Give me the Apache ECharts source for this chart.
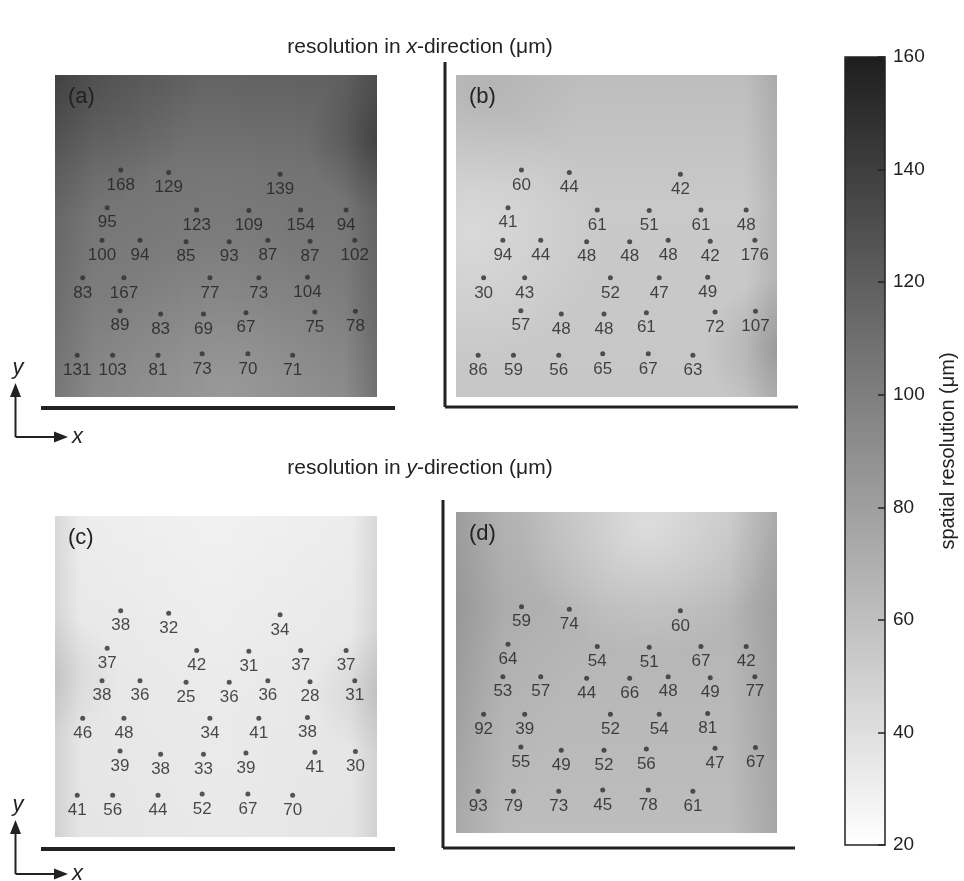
<!DOCTYPE html>
<html><head><meta charset="utf-8">
<script src="https://cdn.jsdelivr.net/npm/echarts@6.0.0/dist/echarts.min.js"></script>
<style>html,body{margin:0;padding:0;background:#fff}#c{width:964px;height:881px}</style>
</head><body><div id="c"></div>
<script>
// phantom point positions (percent of panel width / height, measured from top-left)
const pointX = [20.4, 35.3, 69.9,
  16.2, 44.0, 60.2, 76.3, 90.4,
  14.6, 26.4, 40.7, 54.1, 66.1, 79.2, 93.1,
  8.6, 21.4, 48.1, 63.3, 78.4,
  20.2, 32.8, 46.1, 59.3, 80.7, 93.3,
  6.9, 17.9, 32.0, 45.7, 59.9, 73.8];
const pointY = [29.5, 30.3, 30.8,
  41.2, 41.9, 42.1, 41.9, 41.9,
  51.3, 51.3, 51.8, 51.8, 51.3, 51.6, 51.3,
  63.0, 63.0, 63.0, 63.0, 62.8,
  73.2, 74.2, 74.2, 73.8, 73.6, 73.4,
  87.0, 87.0, 87.0, 86.6, 86.6, 87.0];
// spatial resolution values (µm)
const resXa = [168, 129, 139, 95, 123, 109, 154, 94, 100, 94, 85, 93, 87, 87, 102, 83, 167, 77, 73, 104, 89, 83, 69, 67, 75, 78, 131, 103, 81, 73, 70, 71];
const resXb = [60, 44, 42, 41, 61, 51, 61, 48, 94, 44, 48, 48, 48, 42, 176, 30, 43, 52, 47, 49, 57, 48, 48, 61, 72, 107, 86, 59, 56, 65, 67, 63];
const resYc = [38, 32, 34, 37, 42, 31, 37, 37, 38, 36, 25, 36, 36, 28, 31, 46, 48, 34, 41, 38, 39, 38, 33, 39, 41, 30, 41, 56, 44, 52, 67, 70];
const resYd = [59, 74, 60, 64, 54, 51, 67, 42, 53, 57, 44, 66, 48, 49, 77, 92, 39, 52, 54, 81, 55, 49, 52, 56, 47, 67, 93, 79, 73, 45, 78, 61];
const panelNames = ['(a)', '(b)', '(c)', '(d)'];
const colorbarMin = 20, colorbarMax = 160, colorbarStep = 20;
const colorbarTitle = 'spatial resolution (μm)';
const titleX = 'resolution in {i|x}-direction (μm)';
const titleY = 'resolution in {i|y}-direction (μm)';

const panels = [
  {left: 55, top: 75, w: 322, h: 322, data: resXa},
  {left: 456, top: 75, w: 321, h: 322, data: resXb},
  {left: 55, top: 516, w: 322, h: 321, data: resYc},
  {left: 456, top: 512, w: 321, h: 321, data: resYd}
];
const CB = {left: 845, top: 57, w: 40, h: 788};

const FONT = '"Liberation Sans", Arial, Helvetica, sans-serif';
const chart = echarts.init(document.getElementById('c'));

const lin = (x, y, x2, y2, stops) => ({type: 'linear', x, y, x2, y2, colorStops: stops.map(s => ({offset: s[0], color: s[1]}))});
const rad = (x, y, r, c) => ({type: 'radial', x, y, r, colorStops: [{offset: 0, color: c}, {offset: 1, color: c.replace(/[\d.]+\)$/, '0)')}]});

const bgLayers = [
  [lin(0,0,0,1,[[0,'#636363'],[0.3,'#767676'],[0.7,'#828282'],[1,'#8e8e8e']]),
   lin(0,0,1,0,[[0,'rgba(0,0,0,0.16)'],[0.12,'rgba(0,0,0,0.04)'],[0.5,'rgba(0,0,0,0)'],[0.9,'rgba(0,0,0,0.04)'],[1,'rgba(0,0,0,0.2)']]),
   rad(0,0,0.45,'rgba(0,0,0,0.22)'),
   rad(1,0.2,0.22,'rgba(0,0,0,0.25)'),
   rad(0.55,0.95,0.45,'rgba(255,255,255,0.10)')],
  [lin(0,0,0,1,[[0,'#bdbdbd'],[0.4,'#c9c9c9'],[1,'#c7c7c7']]),
   rad(0.05,0.5,0.4,'rgba(255,255,255,0.3)'),
   lin(0,0,1,0,[[0,'rgba(0,0,0,0)'],[0.9,'rgba(0,0,0,0)'],[1,'rgba(0,0,0,0.1)']]),
   rad(1,0.85,0.22,'rgba(0,0,0,0.14)'),
   rad(0.1,0.05,0.3,'rgba(0,0,0,0.05)')],
  [lin(0,0,0,1,[[0,'#f1f1f1'],[0.5,'#ebebeb'],[1,'#e9e9e9']]),
   lin(0,0,1,0,[[0,'rgba(0,0,0,0.1)'],[0.08,'rgba(0,0,0,0.02)'],[0.5,'rgba(0,0,0,0)'],[0.92,'rgba(0,0,0,0.02)'],[1,'rgba(0,0,0,0.1)']]),
   rad(0,0.5,0.2,'rgba(0,0,0,0.08)'),
   rad(1,0.55,0.2,'rgba(0,0,0,0.09)')],
  [lin(0,0,0,1,[[0,'#c2c2c2'],[0.3,'#b5b5b5'],[1,'#bdbdbd']]),
   rad(0.6,0.05,0.4,'rgba(255,255,255,0.45)'),
   lin(0,0,1,0.35,[[0,'rgba(0,0,0,0.12)'],[0.3,'rgba(0,0,0,0.03)'],[0.5,'rgba(0,0,0,0)']]),
   lin(0,0,1,0,[[0,'rgba(0,0,0,0.08)'],[0.15,'rgba(0,0,0,0)'],[0.85,'rgba(0,0,0,0)'],[1,'rgba(0,0,0,0.12)']])]
];

const graphics = [];
panels.forEach((p, i) => {
  bgLayers[i].forEach(fill => graphics.push({type: 'rect', z: -10, shape: {x: p.left, y: p.top, width: p.w, height: p.h}, style: {fill}}));
  graphics.push({type: 'text', z: 5, x: p.left + 13, y: p.top + 22, style: {text: panelNames[i], font: '22px ' + FONT, fill: '#222', textVerticalAlign: 'middle'}});
});
const LC = '#222';
const line = (x1, y1, x2, y2, w) => ({type: 'line', shape: {x1, y1, x2, y2}, style: {stroke: LC, lineWidth: w}});
// frame lines
graphics.push(line(41, 408, 395, 408, 4));
graphics.push(line(445, 62, 445, 407, 3), line(445, 407, 798, 407, 3));
graphics.push(line(41, 849, 395, 849, 4));
graphics.push(line(443, 500, 443, 848, 3), line(443, 848, 795, 848, 3));
// colorbar frame
graphics.push({type: 'rect', z: 100, shape: {x: CB.left, y: CB.top, width: CB.w, height: CB.h}, style: {fill: 'none', stroke: LC, lineWidth: 1.5}});
// axis direction indicators
function indicator(by) {
  graphics.push(line(15.5, by, 15.5, by - 46, 2), line(15.5, by, 58, by, 2));
  graphics.push({type: 'polygon', shape: {points: [[15.5, by - 54], [10, by - 40], [21, by - 40]]}, style: {fill: LC}});
  graphics.push({type: 'polygon', shape: {points: [[68, by], [54, by - 5.5], [54, by + 5.5]]}, style: {fill: LC}});
  graphics.push({type: 'text', x: 18, y: by - 69, style: {text: 'y', font: 'italic 22px ' + FONT, fill: LC, textAlign: 'center', textVerticalAlign: 'middle'}});
  graphics.push({type: 'text', x: 72, y: by, style: {text: 'x', font: 'italic 22px ' + FONT, fill: LC, textAlign: 'left', textVerticalAlign: 'middle'}});
}
indicator(437);
indicator(874);
// section titles
[[titleX, 47], [titleY, 468]].forEach(t => graphics.push({type: 'text', x: 420, y: t[1], style: {text: t[0], font: '21px ' + FONT, fill: LC, textAlign: 'center', textVerticalAlign: 'middle', rich: {i: {fontStyle: 'italic', fontSize: 21, fontFamily: FONT, fill: LC}}}}));

const grids = panels.map(p => ({left: p.left, top: p.top, width: p.w, height: p.h, outerBoundsMode: 'none', containLabel: false}));
grids.push({left: CB.left, top: CB.top, width: CB.w, height: CB.h, outerBoundsMode: 'none', containLabel: false});

const xAxes = panels.map((p, i) => ({type: 'value', gridIndex: i, min: 0, max: 100, show: false}));
const yAxes = panels.map((p, i) => ({type: 'value', gridIndex: i, min: 0, max: 100, inverse: true, show: false}));
xAxes.push({type: 'value', gridIndex: 4, min: 0, max: 1, show: false});
// colorbar: labels + name on the right
yAxes.push({type: 'value', gridIndex: 4, position: 'right', min: colorbarMin, max: colorbarMax, interval: colorbarStep, z: 50,
  axisLine: {show: false},
  axisTick: {show: false},
  axisLabel: {show: true, color: LC, fontSize: 19, fontFamily: FONT, margin: 8},
  splitLine: {show: false},
  name: colorbarTitle, nameLocation: 'middle', nameGap: 53, nameRotate: 90,
  nameTextStyle: {color: LC, fontSize: 20, fontFamily: FONT}});
// colorbar: inward ticks on the right edge
yAxes.push({type: 'value', gridIndex: 4, position: 'left', offset: -CB.w, min: colorbarMin, max: colorbarMax, interval: colorbarStep, z: 50,
  axisLine: {show: false},
  axisTick: {show: true, inside: false, length: 7, lineStyle: {color: LC, width: 1.5}},
  axisLabel: {show: false},
  splitLine: {show: false}});

const series = panels.map((p, i) => ({
  type: 'scatter', xAxisIndex: i, yAxisIndex: i, z: 5,
  symbol: 'circle', symbolSize: 5,
  itemStyle: {color: '#2e2e2e'},
  data: pointX.map((x, k) => [x, pointY[k], p.data[k]]),
  label: {show: true, position: 'bottom', distance: 4, formatter: q => String(q.value[2]),
    color: '#1e1e1e', fontSize: 17, fontFamily: FONT},
  emphasis: {disabled: true}
}));

chart.setOption({
  animation: false,
  backgroundColor: '#fff',
  grid: grids,
  xAxis: xAxes,
  yAxis: yAxes,
  visualMap: {type: 'continuous', min: colorbarMin, max: colorbarMax, seriesIndex: [], z: 1,
    left: CB.left, top: CB.top, itemWidth: CB.w, itemHeight: CB.h, padding: 0, calculable: false,
    hoverLink: false, text: null, inRange: {color: ['#ffffff', '#1e1e1e']}},
  graphic: graphics,
  series
});
</script></body></html>
